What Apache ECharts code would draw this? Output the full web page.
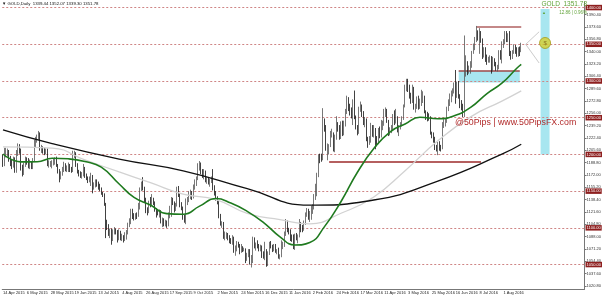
<!DOCTYPE html>
<html><head><meta charset="utf-8">
<script src="https://cdn.jsdelivr.net/npm/echarts@6/dist/echarts.min.js"></script>
<style>html,body{margin:0;padding:0;background:#fff}#c{width:604px;height:296px}</style>
</head><body><div id="c"></div><script>
// candles per month: [open, close, low, high]
const apr15=[[1198,1192,1183,1200],[1192,1200,1184,1209],[1200,1203,1196,1209],[1203,1203,1197,1208],[1203,1193,1190,1206],[1193,1187,1184,1198],[1187,1186,1180,1193],[1186,1193,1182,1197],[1193,1177,1175,1196],[1177,1202,1175,1206],[1202,1212,1198,1215],[1212,1205,1201,1214],[1205,1183,1178,1208]];
const may15=[[1183,1175,1170,1186],[1175,1186,1172,1189],[1186,1193,1183,1197],[1193,1192,1186,1196],[1192,1184,1181,1195],[1184,1189,1180,1193],[1189,1183,1180,1191],[1183,1193,1180,1195],[1193,1217,1191,1220],[1217,1219,1210,1224],[1219,1225,1216,1227],[1225,1228,1220,1232],[1228,1208,1205,1230],[1208,1208,1202,1213],[1208,1205,1201,1211],[1205,1204,1199,1209],[1204,1205,1200,1208],[1205,1186,1184,1208],[1186,1187,1182,1192],[1187,1187,1183,1191],[1187,1190,1181,1192]];
const jun15=[[1190,1192,1185,1195],[1192,1194,1186,1196],[1194,1185,1183,1197],[1185,1177,1174,1187],[1177,1168,1162,1180],[1168,1174,1166,1177],[1174,1178,1171,1183],[1178,1186,1176,1190],[1186,1180,1177,1188],[1180,1180,1176,1185],[1180,1185,1176,1189],[1185,1180,1176,1187],[1180,1177,1175,1183],[1177,1201,1176,1205],[1201,1201,1195,1205],[1201,1185,1183,1203],[1185,1176,1174,1188],[1176,1175,1170,1179],[1175,1172,1168,1177],[1172,1173,1167,1176],[1173,1180,1170,1187],[1180,1171,1168,1183]];
const jul15=[[1171,1168,1165,1174],[1168,1165,1161,1170],[1165,1167,1162,1170],[1167,1170,1157,1175],[1170,1155,1147,1172],[1155,1159,1152,1162],[1159,1161,1155,1166],[1161,1158,1156,1166],[1158,1157,1152,1163],[1157,1153,1150,1160],[1153,1147,1145,1155],[1147,1146,1142,1149],[1146,1132,1130,1147],[1132,1106,1086,1134],[1106,1103,1097,1111],[1103,1092,1089,1105],[1092,1096,1086,1099],[1096,1085,1077,1099],[1085,1096,1082,1098],[1096,1096,1091,1101],[1096,1095,1091,1099],[1095,1088,1080,1097],[1088,1095,1083,1098]];
const aug15=[[1095,1086,1083,1096],[1086,1086,1082,1092],[1086,1084,1080,1090],[1084,1089,1082,1094],[1089,1093,1084,1097],[1093,1104,1091,1107],[1104,1108,1101,1113],[1108,1123,1105,1126],[1123,1115,1112,1126],[1115,1113,1110,1120],[1113,1118,1111,1120],[1118,1117,1112,1121],[1117,1127,1115,1134],[1127,1153,1125,1155],[1153,1160,1150,1163],[1160,1153,1151,1169],[1153,1138,1134,1156],[1138,1124,1120,1141],[1124,1122,1117,1128],[1122,1134,1120,1137],[1134,1132,1128,1142]];
const sep15=[[1132,1140,1131,1146],[1140,1134,1131,1141],[1134,1124,1122,1136],[1124,1121,1114,1127],[1121,1120,1117,1124],[1120,1120,1114,1125],[1120,1109,1106,1124],[1109,1111,1101,1114],[1111,1104,1102,1113],[1104,1108,1102,1111],[1108,1103,1100,1110],[1103,1118,1102,1121],[1118,1118,1113,1130],[1118,1138,1115,1142],[1138,1133,1131,1141],[1133,1125,1121,1136],[1125,1131,1123,1134],[1131,1154,1129,1156],[1154,1145,1142,1157],[1145,1132,1128,1147],[1132,1127,1124,1135],[1127,1114,1111,1129]];
const oct15=[[1114,1113,1107,1118],[1113,1137,1105,1140],[1137,1137,1131,1142],[1137,1146,1135,1150],[1146,1146,1139,1152],[1146,1142,1138,1150],[1142,1155,1140,1159],[1155,1163,1152,1166],[1163,1166,1157,1170],[1166,1180,1165,1188],[1180,1187,1178,1191],[1187,1177,1173,1189],[1177,1172,1168,1180],[1172,1175,1166,1180],[1175,1165,1162,1178],[1165,1166,1160,1169],[1166,1162,1159,1168],[1162,1163,1156,1167],[1163,1166,1161,1170],[1166,1155,1151,1180],[1155,1147,1144,1158],[1147,1141,1137,1150]];
const nov15=[[1141,1135,1132,1143],[1135,1115,1113,1137],[1115,1104,1103,1119],[1104,1104,1100,1109],[1104,1088,1085,1108],[1088,1089,1083,1095],[1089,1090,1085,1094],[1090,1084,1083,1093],[1084,1083,1079,1090],[1083,1081,1078,1086],[1081,1085,1077,1090],[1085,1069,1066,1088],[1069,1072,1062,1076],[1072,1077,1068,1082],[1077,1076,1073,1081],[1076,1067,1064,1078],[1067,1072,1066,1078],[1072,1070,1067,1075],[1070,1070,1068,1073],[1070,1057,1052,1072],[1057,1064,1055,1066]];
const dec15=[[1064,1068,1060,1071],[1068,1053,1050,1071],[1053,1054,1046,1063],[1054,1085,1052,1088],[1085,1074,1072,1087],[1074,1076,1069,1080],[1076,1075,1072,1083],[1075,1072,1068,1078],[1072,1075,1068,1077],[1075,1063,1059,1076],[1063,1062,1058,1068],[1062,1070,1056,1081],[1070,1049,1047,1071],[1049,1065,1048,1068],[1065,1079,1063,1081],[1079,1075,1072,1082],[1075,1069,1067,1077],[1069,1076,1068,1078],[1076,1068,1066,1078],[1068,1069,1064,1071],[1069,1060,1058,1073],[1060,1061,1057,1064]];
const jan16=[[1061,1075,1060,1083],[1075,1078,1071,1081],[1078,1091,1074,1095],[1091,1108,1089,1112],[1108,1097,1094,1110],[1097,1096,1091,1100],[1096,1086,1082,1098],[1086,1085,1081,1091],[1085,1073,1071,1091],[1073,1089,1070,1092],[1089,1088,1083,1093],[1088,1089,1079,1091],[1089,1106,1087,1112],[1106,1098,1094,1108],[1098,1096,1094,1104],[1096,1107,1096,1110],[1107,1118,1104,1121],[1118,1124,1115,1127],[1124,1114,1111,1126],[1114,1118,1108,1123]];
const feb16=[[1118,1128,1111,1130],[1128,1128,1119,1132],[1128,1141,1125,1146],[1141,1157,1138,1160],[1157,1173,1143,1175],[1173,1198,1169,1200],[1198,1197,1188,1201],[1197,1194,1190,1201],[1194,1247,1192,1263],[1247,1239,1231,1249],[1239,1208,1205,1240],[1208,1208,1192,1215],[1208,1211,1200,1214],[1211,1226,1210,1232],[1226,1230,1223,1235],[1230,1209,1204,1230],[1209,1223,1203,1227],[1223,1238,1220,1252],[1238,1235,1231,1244],[1235,1222,1220,1240],[1222,1238,1221,1245]];
const mar16=[[1238,1230,1225,1246],[1230,1241,1226,1246],[1241,1259,1238,1262],[1259,1270,1255,1280],[1270,1266,1259,1278],[1266,1262,1253,1269],[1262,1257,1249,1264],[1257,1271,1240,1275],[1271,1250,1248,1287],[1250,1238,1234,1253],[1238,1232,1226,1240],[1232,1263,1228,1265],[1263,1264,1258,1272],[1264,1255,1251,1268],[1255,1244,1240,1259],[1244,1248,1237,1251],[1248,1221,1218,1249],[1221,1218,1209,1224],[1218,1219,1213,1225],[1219,1237,1216,1243],[1237,1226,1224,1240],[1226,1233,1223,1240]];
const apr16=[[1233,1222,1207,1236],[1222,1218,1211,1225],[1218,1233,1214,1236],[1233,1226,1222,1238],[1226,1239,1223,1247],[1239,1243,1233,1246],[1243,1258,1239,1262],[1258,1261,1251,1264],[1261,1246,1243,1262],[1246,1228,1225,1247],[1228,1234,1226,1237],[1234,1234,1229,1240],[1234,1253,1232,1255],[1253,1244,1240,1260],[1244,1251,1242,1262],[1251,1232,1230,1252],[1232,1237,1225,1240],[1237,1242,1234,1244],[1242,1250,1238,1252],[1250,1266,1247,1268],[1266,1292,1264,1295]];
const may16=[[1292,1295,1286,1303],[1295,1291,1285,1303],[1291,1280,1276,1295],[1280,1275,1269,1284],[1275,1290,1270,1295],[1290,1264,1261,1292],[1264,1265,1257,1269],[1265,1277,1262,1279],[1277,1264,1261,1280],[1264,1272,1262,1276],[1272,1274,1266,1288],[1274,1278,1270,1286],[1278,1257,1256,1280],[1257,1254,1247,1260],[1254,1252,1245,1258],[1252,1249,1246,1256],[1249,1229,1227,1252],[1229,1225,1222,1231],[1225,1221,1216,1230],[1221,1212,1206,1224],[1212,1208,1204,1213],[1208,1214,1199,1217]];
const jun16=[[1214,1211,1205,1218],[1211,1209,1204,1213],[1209,1242,1207,1244],[1242,1244,1236,1248],[1244,1244,1238,1249],[1244,1262,1243,1265],[1262,1272,1259,1275],[1272,1274,1266,1283],[1274,1283,1271,1287],[1283,1287,1279,1290],[1287,1296,1283,1298],[1296,1278,1269,1315],[1278,1297,1277,1299],[1297,1279,1276,1300],[1279,1269,1263,1282],[1269,1266,1260,1274],[1266,1255,1251,1269],[1255,1316,1251,1362],[1316,1324,1306,1335],[1324,1312,1308,1327],[1312,1317,1310,1321],[1317,1320,1310,1327]];
const jul16=[[1320,1339,1318,1341],[1339,1350,1337,1351],[1350,1358,1342,1360],[1358,1366,1353,1375],[1366,1358,1355,1369],[1358,1365,1337,1372],[1365,1356,1352,1368],[1356,1334,1330,1358],[1334,1343,1332,1346],[1343,1333,1326,1346],[1333,1327,1322,1336],[1327,1329,1325,1333],[1329,1332,1325,1335],[1332,1316,1310,1334],[1316,1330,1313,1333],[1330,1323,1320,1331],[1323,1317,1314,1326],[1317,1320,1313,1322],[1320,1340,1316,1342],[1340,1333,1329,1342],[1333,1350,1324,1354]];
const aug16=[[1350,1352,1345,1357],[1352,1366,1350,1368],[1366,1356,1353,1368],[1356,1362,1353,1365],[1362,1335,1334,1368],[1335,1334,1329,1341],[1334,1340,1330,1342],[1340,1345,1337,1350],[1345,1341,1337,1349],[1341,1335,1333,1346],[1335,1341,1333,1346],[1341,1338.92,1334,1347],[1339.44,1351.78,1339.30,1352.07]];
const candleMonths=[apr15,may15,jun15,jul15,aug15,sep15,oct15,nov15,dec15,jan16,feb16,mar16,apr16,may16,jun16,jul16,aug16];

// moving averages: [bar index, price]
const sma50=[[0,1200.6],[12,1189.9],[23,1190],[33,1194.8],[44,1194],[55,1190.4],[66,1182.6],[78,1159.7],[88,1141.4],[99,1131.1],[110,1119.3],[121,1118.5],[132,1129.6],[143,1139.9],[153,1133.8],[164,1122.5],[175,1107.2],[186,1087.8],[196,1076.7],[206,1080],[216,1102],[227,1135.9],[238,1175.7],[249,1207.9],[260,1230.8],[270,1241.4],[280,1250.6],[292,1248.5],[303,1252.6],[314,1264.1],[325,1282.9],[335,1297],[345,1317.4],[348,1322.7]];
const sma100=[[0,1210.2],[33,1208.6],[55,1192.5],[78,1176.1],[99,1161.6],[121,1145.9],[143,1138.3],[164,1119.7],[186,1111.2],[206,1105.5],[227,1119.9],[249,1142.1],[270,1177.9],[292,1218.5],[314,1251.2],[335,1272.6],[348,1286.6]];
const sma200=[[0,1233.5],[33,1214.7],[78,1193.7],[121,1177.7],[164,1153.4],[206,1130.9],[249,1137.9],[292,1163.6],[335,1200.3],[348,1213.8]];

const holidays=['2015-12-25','2016-01-01','2016-03-25'];
const totalSlots=391;
const priceLevels=[1400,1350,1300,1250,1200,1150,1100,1050];
const yTickLabels=[1020.8,1037.6,1054.4,1071.2,1088.0,1104.8,1121.6,1138.4,1155.2,1172.0,1188.8,1205.6,1222.4,1239.2,1256.0,1272.8,1289.6,1306.4,1323.2,1340.0,1356.8,1373.6,1390.4];
const resistance={from:318,to:348,price:1374};
const support={from:219,to:321,price:1190};
const zoneBox={from:306,to:347,low:1298,high:1314};
const targetBar={from:361,to:367,low:1200,high:1398};
const pricePoint={idx:364,price:1351.78};
const wedge={tip:[351,1350],upper:[360,1367],lower:[360,1324.5]};
const headerText='\u25BC GOLD,Daily  1339.44 1352.07 1339.30 1351.78';
const quoteText='GOLD  1351.78';
const changeText='12.86 | 0.96%';
const watermark='@50Pips | www.50PipsFX.com';

const candles=[].concat(...candleMonths);
const lastIdx=candles.length-1;
const MON=['Jan','Feb','Mar','Apr','May','Jun','Jul','Aug','Sep','Oct','Nov','Dec'];
const cats=[];
let d=new Date(Date.UTC(2015,3,14));
while(cats.length<totalSlots){
  const dow=d.getUTCDay(), iso=d.toISOString().slice(0,10);
  if(dow!==0&&dow!==6&&!holidays.includes(iso)) cats.push(d.getUTCDate()+' '+MON[d.getUTCMonth()]+' '+d.getUTCFullYear());
  d.setUTCDate(d.getUTCDate()+1);
}

const chart=echarts.init(document.getElementById('c'),null,{renderer:'canvas'});
const FONT='Liberation Sans, Arial, sans-serif';
chart.setOption({
  animation:false,
  backgroundColor:'#ffffff',
  grid:{left:0,right:16,top:2,bottom:7,containLabel:false},
  xAxis:{type:'category',data:cats,boundaryGap:true,
    axisLine:{lineStyle:{color:'#777',width:1}},
    axisTick:{interval:15,length:2,lineStyle:{color:'#777'}},
    axisLabel:{interval:15,fontSize:4,color:'#222',fontFamily:FONT,margin:2,align:'left',
      formatter:(v,i)=>i<=lastIdx?v:''},
    splitLine:{show:false}},
  yAxis:{type:'value',position:'right',min:1016.7,max:1407.6,scale:true,
    axisLine:{show:true,lineStyle:{color:'#777'}},
    axisTick:{show:true,length:2,customValues:yTickLabels,lineStyle:{color:'#777'}},
    axisLabel:{customValues:yTickLabels,fontSize:4,color:'#333',fontFamily:FONT,margin:2,formatter:v=>v.toFixed(2)},
    splitLine:{show:false}},
  series:[
    {type:'candlestick',data:candles,barMaxWidth:1.2,z:3,
      itemStyle:{color:'#ffffff',color0:'#111111',borderColor:'#555555',borderColor0:'#111111',borderWidth:0.8},
      markLine:{silent:true,symbol:'none',z:2,
        data:[
          ...priceLevels.map(v=>({yAxis:v,lineStyle:{color:'#cf8585',type:[2,2],width:1},
            label:{show:true,position:'end',distance:1,formatter:p=>p.value.toFixed(2),backgroundColor:'#8e1f1f',color:'#fff',fontSize:4,fontFamily:FONT,padding:[1,1,0.5,1]}})),
          [{coord:[resistance.from,resistance.price]},{coord:[resistance.to,resistance.price],lineStyle:{color:'#b06060',width:1.6,type:'solid'},label:{show:false}}],
          [{coord:[support.from,support.price]},{coord:[support.to,support.price],lineStyle:{color:'#9c2a2a',width:1.5,type:'solid'},label:{show:false}}],
          [{coord:[zoneBox.from,zoneBox.high]},{coord:[zoneBox.to,zoneBox.high],lineStyle:{color:'#a04848',width:1.5,type:'solid'},label:{show:false}}],
          [{coord:wedge.tip},{coord:wedge.upper,lineStyle:{color:'#cccccc',width:1,type:'solid'},label:{show:false}}],
          [{coord:wedge.tip},{coord:wedge.lower,lineStyle:{color:'#cccccc',width:1,type:'solid'},label:{show:false}}]
        ]},
      markArea:{silent:true,
        data:[
          [{xAxis:zoneBox.from,yAxis:zoneBox.high,itemStyle:{color:'#a8e6f0'}},{xAxis:zoneBox.to,yAxis:zoneBox.low}],
          [{xAxis:targetBar.from,yAxis:targetBar.high,itemStyle:{color:'#a8e6f0'}},{xAxis:targetBar.to,yAxis:targetBar.low}]
        ]}
    },
    {type:'line',name:'SMA100',data:sma100,smooth:0.5,showSymbol:false,z:4,lineStyle:{color:'#d2d2d2',width:1.3}},
    {type:'line',name:'SMA200',data:sma200,smooth:0.5,showSymbol:false,z:5,lineStyle:{color:'#111111',width:1.3}},
    {type:'line',name:'SMA50',data:sma50,smooth:0.5,showSymbol:false,z:6,lineStyle:{color:'#1f7a1f',width:1.6}},
    {type:'scatter',data:[[pricePoint.idx,pricePoint.price]],symbolSize:11,z:7,
      itemStyle:{color:'#d6cf2e',borderColor:'#a69a18',borderWidth:1},
      label:{show:true,position:'inside',formatter:'$',fontSize:6,color:'#7a5a10',fontFamily:FONT}}
  ],
  graphic:[
    {type:'text',z:100,left:2,top:1.5,style:{text:headerText,font:'4.3px '+FONT,fill:'#111'}},
    {type:'text',z:100,right:17,top:0.5,style:{text:quoteText,font:'6.5px '+FONT,fill:'#62a33a'}},
    {type:'text',z:100,left:542,top:10.5,style:{text:'\u25B2',font:'4px '+FONT,fill:'#62a33a'}},
    {type:'text',z:100,right:17,top:10.5,style:{text:changeText,font:'4.5px '+FONT,fill:'#62a33a'}},
    {type:'text',z:100,left:455,top:118,style:{text:watermark,font:'8.8px '+FONT,fill:'#b22a2a'}}
  ]
});
</script></body></html>
